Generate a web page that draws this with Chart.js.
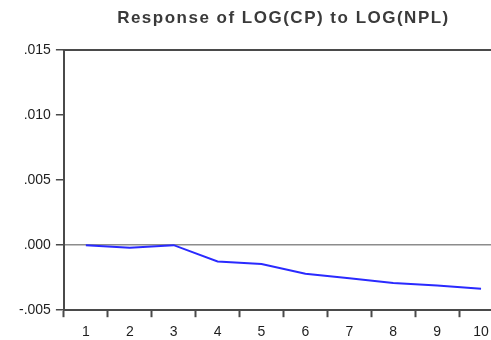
<!DOCTYPE html>
<html><head><meta charset="utf-8">
<script src="https://cdn.jsdelivr.net/npm/chart.js@4"></script>
<style>html,body{margin:0;padding:0;overflow:hidden;background:#fff}
#wrap{width:491px;height:340px;overflow:hidden;position:relative}</style></head>
<body><div id="wrap"><canvas id="c" width="505" height="348"></canvas></div>
<script>
const chartTitle = 'Response of LOG(CP) to LOG(NPL)';
const periods = ['1','2','3','4','5','6','7','8','9','10'];
const response = [0.0000, -0.0002, 0.0000, -0.00125, -0.00145, -0.0022, -0.00255, -0.0029, -0.0031, -0.00335];
const yTickValues = [-0.005, 0.000, 0.005, 0.010, 0.015];
const yTickLabels = ['-.005', '.000', '.005', '.010', '.015'];

const frame = {
  id: 'frame',
  afterDraw(chart) {
    const a = chart.chartArea, ctx = chart.ctx;
    ctx.save();
    ctx.strokeStyle = '#4a4a4a';
    ctx.lineWidth = 2;
    ctx.beginPath();
    ctx.moveTo(a.left - 1, a.top);
    ctx.lineTo(a.right, a.top);
    ctx.lineTo(a.right, a.bottom);
    ctx.stroke();
    // title, centred over the plot area
    ctx.fillStyle = '#3a3a3a';
    ctx.font = 'bold 17px "Liberation Sans", Arial, sans-serif';
    if ('letterSpacing' in ctx) ctx.letterSpacing = '1.5px';
    ctx.textAlign = 'center';
    ctx.textBaseline = 'alphabetic';
    ctx.fillText(chartTitle, (a.left + a.right) / 2, a.top - 27);
    if ('letterSpacing' in ctx) ctx.letterSpacing = '0px';
    ctx.restore();
  }
};

new Chart(document.getElementById('c'), {
  type: 'line',
  data: {
    labels: periods,
    datasets: [{
      data: response,
      borderColor: '#2a2aff',
      borderWidth: 2,
      pointRadius: 0,
      tension: 0,
      fill: false
    }]
  },
  options: {
    responsive: false,
    devicePixelRatio: 1,
    animation: false,
    layout: { padding: { left: 14, right: 2, top: 50, bottom: 0 } },
    plugins: {
      legend: { display: false },
      tooltip: { enabled: false },
      title: { display: false }
    },
    scales: {
      x: {
        type: 'category',
        offset: true,
        grid: {
          offset: true,
          drawOnChartArea: false,
          tickLength: 7,
          tickColor: '#4a4a4a',
          tickWidth: 2
        },
        border: { display: true, color: '#4a4a4a', width: 2 },
        ticks: {
          color: '#1e1e1e',
          padding: 7,
          maxRotation: 0,
          font: { family: '"Liberation Sans", Arial, sans-serif', size: 14 }
        }
      },
      y: {
        min: -0.005,
        max: 0.015,
        afterBuildTicks(scale) { scale.ticks = yTickValues.map(v => ({ value: v })); },
        grid: {
          color: c => (c.tick && Math.abs(c.tick.value) < 1e-9) ? '#8c8c8c' : 'rgba(0,0,0,0)',
          lineWidth: 1.5,
          tickLength: 8,
          tickColor: '#4a4a4a',
          tickWidth: 1.5
        },
        border: { display: true, color: '#4a4a4a', width: 2 },
        ticks: {
          color: '#1e1e1e',
          padding: 5,
          font: { family: '"Liberation Sans", Arial, sans-serif', size: 14 },
          callback: (v) => {
            const i = yTickValues.findIndex(t => Math.abs(t - v) < 1e-9);
            return i >= 0 ? yTickLabels[i] : '';
          }
        }
      }
    }
  },
  plugins: [frame]
});
</script>
</body></html>
